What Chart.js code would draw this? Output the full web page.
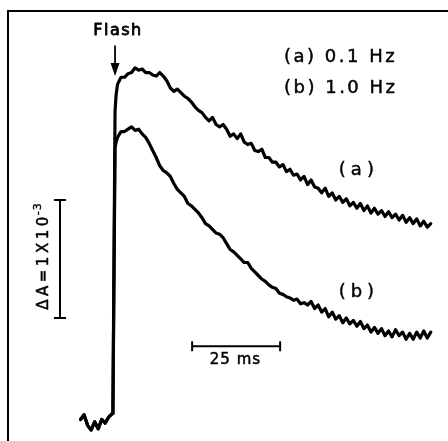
<!DOCTYPE html>
<html>
<head>
<meta charset="utf-8">
<script src="https://cdn.jsdelivr.net/npm/chart.js@4.4.1/dist/chart.umd.min.js"></script>
<style>
  html, body { margin: 0; padding: 0; background: #fff; }
  canvas { display: block; }
</style>
</head>
<body>
<canvas id="flashChart" width="448" height="441"></canvas>
<script>
// time after the flash (ms), shared by both traces
const timeMs = [
  -9.5, -8.5, -7.5, -6.5, -5.5, -4.5, -3.5, -2.5, -1.5, -0.5, -0.3, 0.3, 0.6,
  1, 2, 3, 4, 5, 6, 7, 8, 9, 10, 11, 12, 13, 14, 15, 16, 17, 18, 19, 20,
  21, 22, 23, 24, 25, 26, 27, 28, 29, 30, 31, 32, 33, 34, 35, 36, 37, 38, 39, 40,
  41, 42, 43, 44, 45, 46, 47, 48, 49, 50, 51, 52, 53, 54, 55, 56, 57, 58, 59, 60,
  61, 62, 63, 64, 65, 66, 67, 68, 69, 70, 71, 72, 73, 74, 75, 76, 77, 78, 79, 80,
  81, 82, 83, 84, 85, 86, 87, 88, 89, 90
];

// ΔA in units of 1e-3, (a) 0.1 Hz
const traceA = [
  0.03, 0.07, -0.02, -0.06, 0.01, -0.05, 0.03, 0.00, 0.05, 0.08, 0.11, 2.64, 2.78,
  2.87, 2.93, 2.93, 2.96, 2.97, 3.01, 2.99, 3.00, 2.97, 2.97, 2.95, 2.94, 2.97, 2.94, 2.90, 2.84, 2.81, 2.83, 2.80, 2.77,
  2.75, 2.72, 2.68, 2.65, 2.63, 2.59, 2.56, 2.59, 2.53, 2.51, 2.53, 2.49, 2.43, 2.45, 2.41, 2.45, 2.38, 2.36, 2.37, 2.31,
  2.30, 2.32, 2.25, 2.25, 2.21, 2.21, 2.17, 2.19, 2.13, 2.15, 2.10, 2.11, 2.06, 2.09, 2.02, 2.06, 2.00, 1.99, 1.95, 1.99,
  1.92, 1.95, 1.89, 1.92, 1.87, 1.90, 1.84, 1.87, 1.82, 1.86, 1.80, 1.84, 1.78, 1.82, 1.77, 1.80, 1.75, 1.79, 1.74, 1.77,
  1.72, 1.76, 1.70, 1.74, 1.69, 1.73, 1.67, 1.71, 1.66, 1.69
];

// ΔA in units of 1e-3, (b) 1.0 Hz
const traceB = [
  0.03, 0.07, -0.02, -0.06, 0.01, -0.05, 0.03, 0.00, 0.05, 0.08, 0.11, 2.33, 2.38,
  2.42, 2.47, 2.47, 2.49, 2.51, 2.48, 2.49, 2.45, 2.42, 2.37, 2.31, 2.25, 2.18, 2.14, 2.12, 2.09, 2.03, 1.98, 1.95, 1.92,
  1.86, 1.84, 1.81, 1.78, 1.74, 1.69, 1.67, 1.64, 1.61, 1.60, 1.57, 1.52, 1.47, 1.45, 1.42, 1.39, 1.36, 1.36, 1.31, 1.28,
  1.25, 1.22, 1.20, 1.17, 1.15, 1.14, 1.10, 1.09, 1.07, 1.06, 1.04, 1.05, 1.01, 1.02, 1.00, 1.03, 0.97, 1.00, 0.94, 0.97,
  0.90, 0.94, 0.88, 0.91, 0.85, 0.89, 0.84, 0.87, 0.82, 0.86, 0.80, 0.83, 0.77, 0.81, 0.76, 0.80, 0.74, 0.78, 0.73, 0.79,
  0.74, 0.77, 0.71, 0.76, 0.71, 0.77, 0.72, 0.78, 0.72, 0.77
];

const xRange = [-30.11, 94.89];
const yRange = [-0.1525, 3.4915];

// scale bars, in data units
const timeBar = { from: 22.2, to: 47.2, at: 0.65 };
const deltaBar = { at: -15.34, from: 0.89, to: 1.89 };

const FONT = '"DejaVu Sans", sans-serif';

// filled text with a thin outline, to match the heavier print
function label(ctx, text, x, y, weight) {
  ctx.fillText(text, x, y);
  ctx.lineWidth = weight;
  ctx.strokeText(text, x, y);
}

const annotations = {
  id: 'annotations',
  afterDraw(chart) {
    const { ctx, scales: { x, y } } = chart;
    const px = v => x.getPixelForValue(v);
    const py = v => y.getPixelForValue(v);

    ctx.save();
    ctx.fillStyle = '#000';
    ctx.strokeStyle = '#000';
    ctx.lineCap = 'butt';
    ctx.lineJoin = 'round';

    // flash arrow
    const ax = px(0.3);
    ctx.lineWidth = 1.8;
    ctx.beginPath();
    ctx.moveTo(ax, py(3.20));
    ctx.lineTo(ax, py(3.02));
    ctx.stroke();
    ctx.beginPath();
    ctx.moveTo(ax - 4.5, py(3.05));
    ctx.lineTo(ax + 4.5, py(3.05));
    ctx.lineTo(ax, py(2.94));
    ctx.closePath();
    ctx.fill();

    // 25 ms bar
    ctx.lineWidth = 2;
    ctx.beginPath();
    ctx.moveTo(px(timeBar.from), py(timeBar.at));
    ctx.lineTo(px(timeBar.to), py(timeBar.at));
    ctx.moveTo(px(timeBar.from), py(timeBar.at) - 5);
    ctx.lineTo(px(timeBar.from), py(timeBar.at) + 5);
    ctx.moveTo(px(timeBar.to), py(timeBar.at) - 5);
    ctx.lineTo(px(timeBar.to), py(timeBar.at) + 5);
    ctx.stroke();

    // ΔA bar
    ctx.beginPath();
    ctx.moveTo(px(deltaBar.at), py(deltaBar.from));
    ctx.lineTo(px(deltaBar.at), py(deltaBar.to));
    ctx.moveTo(px(deltaBar.at) - 6, py(deltaBar.from));
    ctx.lineTo(px(deltaBar.at) + 6, py(deltaBar.from));
    ctx.moveTo(px(deltaBar.at) - 6, py(deltaBar.to));
    ctx.lineTo(px(deltaBar.at) + 6, py(deltaBar.to));
    ctx.stroke();

    // labels
    ctx.textBaseline = 'middle';
    ctx.textAlign = 'center';
    ctx.font = `16px ${FONT}`;
    ctx.letterSpacing = '1.5px';
    label(ctx, 'Flash', px(1.14), py(3.32), 0.8);

    ctx.font = `18px ${FONT}`;
    ctx.letterSpacing = '2.5px';
    ctx.textAlign = 'left';
    label(ctx, '(a) 0.1 Hz', px(48.3), py(3.10), 0.45);
    label(ctx, '(b) 1.0 Hz', px(48.3), py(2.84), 0.45);

    ctx.textAlign = 'center';
    ctx.letterSpacing = '5px';
    label(ctx, '(a)', px(69.0) + 2, py(2.14), 0.45);
    label(ctx, '(b)', px(69.0) + 2, py(1.11), 0.45);

    ctx.font = `15px ${FONT}`;
    ctx.letterSpacing = '1px';
    label(ctx, '25 ms', px(34.5), py(0.53), 0.5);

    // rotated ΔA label
    ctx.save();
    ctx.translate(px(-18.75), py(0.96));
    ctx.rotate(-Math.PI / 2);
    ctx.textAlign = 'left';
    ctx.textBaseline = 'alphabetic';
    ctx.font = `15px ${FONT}`;
    ctx.letterSpacing = '3.5px';
    const main = 'ΔA=1X10';
    label(ctx, main, 0, 0, 0.5);
    const w = ctx.measureText(main).width;
    ctx.font = `11px ${FONT}`;
    ctx.letterSpacing = '1px';
    label(ctx, '-3', w - 2, -7, 0.4);
    ctx.restore();

    ctx.restore();
  }
};

const lineStyle = {
  borderColor: '#000',
  borderWidth: 3.2,
  pointRadius: 0,
  tension: 0,
  borderJoinStyle: 'round',
  borderCapStyle: 'round',
  fill: false
};

new Chart(document.getElementById('flashChart'), {
  type: 'line',
  data: {
    labels: timeMs,
    datasets: [
      { label: '(a) 0.1 Hz', data: timeMs.map((t, i) => ({ x: t, y: traceA[i] })), ...lineStyle },
      { label: '(b) 1.0 Hz', data: timeMs.map((t, i) => ({ x: t, y: traceB[i] })), ...lineStyle }
    ]
  },
  options: {
    responsive: false,
    animation: false,
    devicePixelRatio: 1,
    layout: { padding: { left: 8, top: 11, right: 0, bottom: 0 } },
    plugins: { legend: { display: false }, tooltip: { enabled: false } },
    scales: {
      x: {
        type: 'linear',
        position: 'top',
        min: xRange[0],
        max: xRange[1],
        ticks: { display: false },
        grid: { display: false, drawTicks: false },
        border: { display: true, color: '#000', width: 2 }
      },
      y: {
        type: 'linear',
        position: 'left',
        min: yRange[0],
        max: yRange[1],
        ticks: { display: false },
        grid: { display: false, drawTicks: false },
        border: { display: true, color: '#000', width: 2 }
      }
    }
  },
  plugins: [annotations]
});
</script>
</body>
</html>
